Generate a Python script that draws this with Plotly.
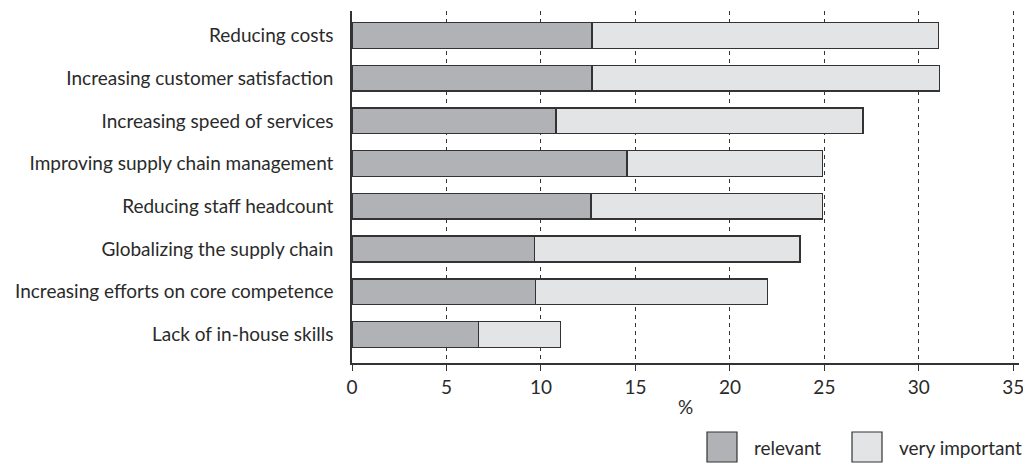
import plotly.graph_objects as go

categories = [
    "Reducing costs",
    "Increasing customer satisfaction",
    "Increasing speed of services",
    "Improving supply chain management",
    "Reducing staff headcount",
    "Globalizing the supply chain",
    "Increasing efforts on core competence",
    "Lack of in-house skills",
]
relevant = [12.7, 12.7, 10.8, 14.55, 12.65, 9.65, 9.7, 6.7]
very_important = [18.35, 18.4, 16.25, 10.35, 12.25, 14.05, 12.3, 4.35]
x_ticks = [0, 5, 10, 15, 20, 25, 30, 35]

font_name = "Lato"
ink = "#2a2a2a"
fsize = 19

fig = go.Figure()
fig.add_trace(go.Bar(
    y=categories, x=relevant, name="relevant", orientation="h",
    marker=dict(color="#b1b2b5", line=dict(color="#333333", width=1.4)),
    width=0.6,
))
fig.add_trace(go.Bar(
    y=categories, x=very_important, name="very important", orientation="h",
    marker=dict(color="#e3e4e5", line=dict(color="#333333", width=1.4)),
    width=0.6,
))

# page puts the figure 8px in from the corner, so sizes are in window pixels minus that
off = 8
x0_px, x1_px, y_bot = 352, 1019, 363
plot_w, plot_h = x1_px - x0_px, 352

# legend drawn by hand, the boxes are big
legend_items = [("relevant", "#b1b2b5", 707, 752), ("very important", "#e3e4e5", 852, 897)]
for label, col, bx, tx in legend_items:
    fig.add_shape(
        type="rect", xref="paper", yref="paper",
        x0=(bx - x0_px) / plot_w, x1=(bx + 30 - x0_px) / plot_w,
        y0=(y_bot - 432) / plot_h, y1=(y_bot - 462) / plot_h,
        fillcolor=col, line=dict(color="#333333", width=1.2),
    )
    fig.add_annotation(
        x=(tx - x0_px) / plot_w, y=(y_bot - 447) / plot_h, xref="paper", yref="paper",
        text=label, showarrow=False, xanchor="left", yanchor="middle",
        font=dict(family=font_name, size=fsize, color=ink),
    )

fig.update_layout(
    barmode="stack",
    width=1031 - off, height=464 - off,
    margin=dict(l=x0_px - off, r=1031 - x1_px, t=11 - off, b=464 - y_bot),
    plot_bgcolor="white", paper_bgcolor="white",
    showlegend=False,
    font=dict(family=font_name, size=fsize, color=ink),
    xaxis=dict(
        range=[0, 35.3], tickvals=x_ticks, ticks="outside", ticklen=6,
        tickcolor="#333333", showline=True, linecolor="#333333", linewidth=1.5,
        showgrid=True, gridcolor="#333333", gridwidth=1, griddash="4px,4px",
        zeroline=False, automargin=False,
        title=dict(text="%", font=dict(family=font_name, size=fsize, color=ink), standoff=4),
    ),
    yaxis=dict(
        categoryorder="array", categoryarray=categories, automargin=False,
        range=[7.67, -0.574], showline=True, linecolor="#333333", linewidth=1.5,
        showgrid=False, zeroline=False, ticks="", ticklabelstandoff=13,
    ),
)

fig.write_html("out.html")
